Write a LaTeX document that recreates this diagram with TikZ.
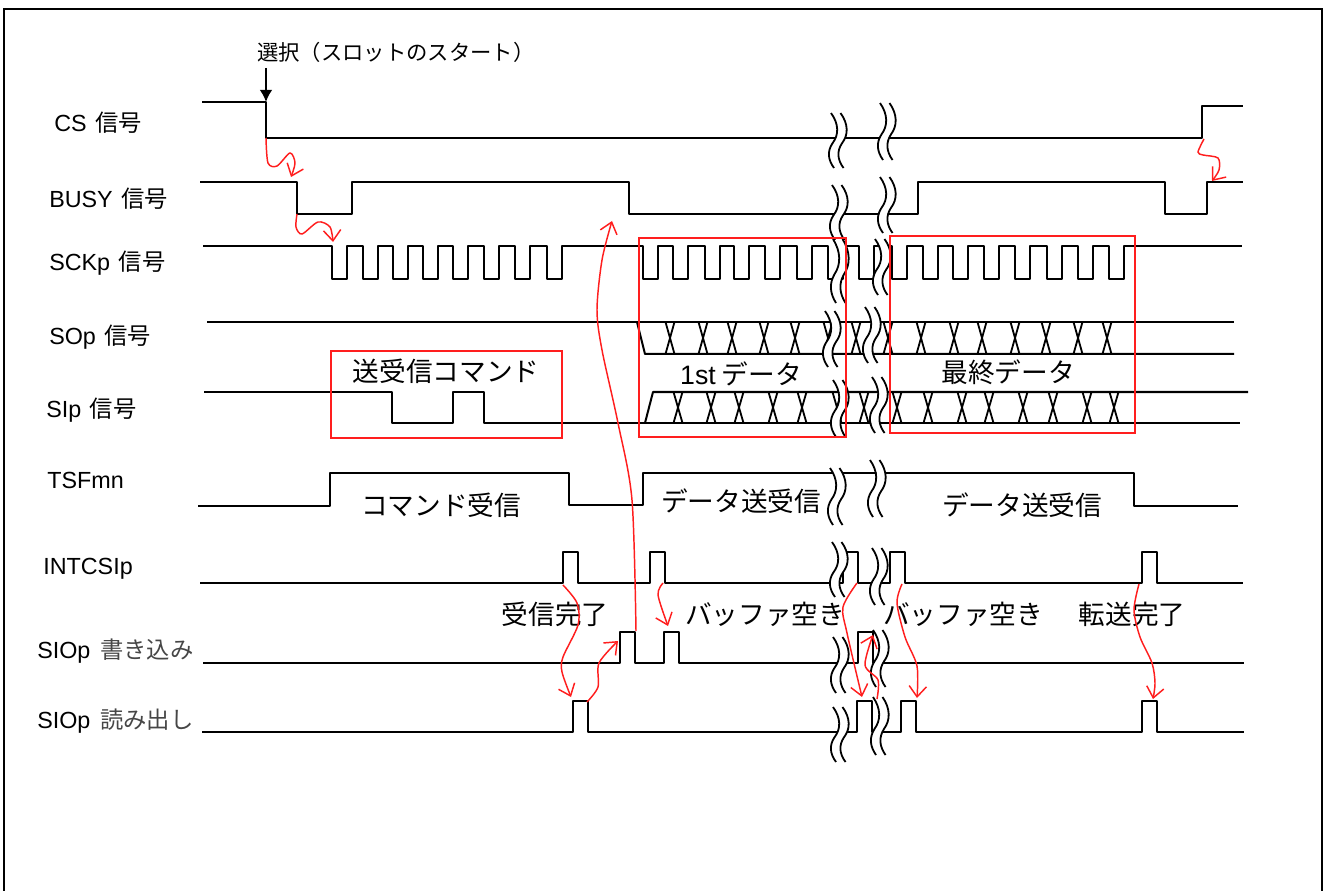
\documentclass[tikz,border=0pt]{standalone}
\usepackage{fontspec}
\setmainfont{Liberation Sans}
\newfontfamily\jp{Noto Sans CJK JP}
\usetikzlibrary{arrows.meta}

% one wavy cut line: x, top y, bottom y
\newcommand{\wavecut}[3]{(#1,#2) .. controls (#1+8,{#2+0.2*(#3-#2)}) and (#1+8,{#2+0.4*(#3-#2)}) .. (#1+1.5,{#2+0.55*(#3-#2)}) .. controls (#1-4,{#2+0.7*(#3-#2)}) and (#1-3,{#2+0.85*(#3-#2)}) .. (#1+3,#3)}

\tikzset{
    sig/.style={line width=1.5pt, line join=round},
    cross/.style={line width=1.35pt},
    cut/.style={line width=1.35pt},
    redbox/.style={draw=sigred, line width=1pt},
    redarrow/.style={draw=sigred, line width=1.1pt, -{Straight Barb[length=8pt,width=13pt,line width=1.1pt]}},
    siglabel/.style={anchor=west, inner sep=0pt, font=\fontsize{17.5}{20}\selectfont},
    biglabel/.style={inner sep=0pt, font=\fontsize{20}{22}\selectfont\jp}
}

\begin{document}
\begin{tikzpicture}[x=0.75pt,y=-0.75pt]
    % Define colors
    \definecolor{sigred}{RGB}{255,30,30}
    \definecolor{softblack}{RGB}{70,70,70}

    \useasboundingbox (0,0) rectangle (1325,891);

    % Frame
    \draw[line width=1.5pt] (4,891) -- (4,9) -- (1322,9) -- (1322,891);

    % Signal names
    \node[siglabel] (labelcs) at (54,123) {CS\kern1.5pt\ {\jp 信号}};
    \node[siglabel] (labelbusy) at (49,198.5) {BUSY\kern1.5pt\ {\jp 信号}};
    \node[siglabel] (labelsck) at (49,263) {SCKp\kern1.5pt\ {\jp 信号}};
    \node[siglabel] (labelso) at (49,337) {SOp\kern1.5pt\ {\jp 信号}};
    \node[siglabel] (labelsi) at (46,410) {SIp\kern1.5pt\ {\jp 信号}};
    \node[siglabel] (labeltsf) at (47,480) {TSFmn};
    \node[siglabel] (labelint) at (43,569) {INTCSIp};
    \node[siglabel] (labelwrite) at (37,651) {SIOp\kern2.5pt\ {\jp\color{softblack}書き込み}};
    \node[siglabel] (labelread) at (37,721) {SIOp\kern2.5pt\ {\jp\color{softblack}読み出し}};

    % CS and BUSY
    \draw[sig] (202,102) -- (266,102) -- (266,138) -- (1202,138) -- (1202,106) -- (1243,106);
    \draw[sig] (200,182) -- (297,182) -- (297,214) -- (352,214) -- (352,182) -- (629,182) -- (629,214)
        -- (918,214) -- (918,182) -- (1165,182) -- (1165,214) -- (1207,214) -- (1207,182) -- (1243,182);

    % SCKp clock
    \draw[sig] (203,246) foreach \x in {332,363,393,423,453,484,515,547,643,673,705,734,765,797,828,859,892,923,953,984,1015,1047,1078,1109} {
        -- (\x,246) -- (\x,279) -- (\x+15,279) -- (\x+15,246)
    } -- (1242,246);

    % SOp
    \draw[sig] (207,322) -- (1234,322);
    \draw[sig] (637,322) -- (645,354) -- (1234,354);
    \foreach \x in {670,703,732,764,795,828,856,888,921,954,982,1015,1046,1078,1107} {
        \draw[cross] (\x-4.5,322) -- (\x+4.5,354);
        \draw[cross] (\x+4.5,322) -- (\x-4.5,354);
    }

    % SIp
    \draw[sig] (204,392) -- (392,392) -- (392,423) -- (453,423) -- (453,392) -- (484,392) -- (484,423) -- (1240,423);
    \draw[sig] (645,423) -- (653,392) -- (1248,392);
    \foreach \x in {678,711,739,773,802,837,864,897,928,962,989,1023,1053,1087,1114} {
        \draw[cross] (\x-4.5,392) -- (\x+4.5,423);
        \draw[cross] (\x+4.5,392) -- (\x-4.5,423);
    }

    % TSFmn
    \draw[sig] (198,506) -- (330,506) -- (330,473) -- (569,473) -- (569,505) -- (643,505) -- (643,473)
        -- (1134,473) -- (1134,506) -- (1238,506);

    % INTCSIp
    \draw[sig] (200,583) foreach \x in {563,650,843,890,1142} {
        -- (\x,583) -- (\x,552) -- (\x+15,552) -- (\x+15,583)
    } -- (1243,583);

    % SIOp write
    \draw[sig] (203,663) foreach \x in {620,664,858} {
        -- (\x,663) -- (\x,632) -- (\x+15,632) -- (\x+15,663)
    } -- (1244,663);

    % SIOp read
    \draw[sig] (202,732) foreach \x in {573,857,901,1142} {
        -- (\x,732) -- (\x,701) -- (\x+15,701) -- (\x+15,732)
    } -- (1244,732);

    % Time axis cuts
    \foreach \x/\ya/\yb in {831/113/168,880/103/160,832/185/240,880/177/233,833/239/303,875/239/295,
        825/311/367,865/307/363,833/380/437,872/377/433,830/468/525,870/460/517,
        832/542/597,872/548/605,833/637/693,873/630/687,833/707/762,873/697/755} {
        \draw[white, line width=6pt] \wavecut{\x+5}{\ya}{\yb};
        \draw[cut] \wavecut{\x}{\ya}{\yb};
        \draw[cut] \wavecut{\x+9.5}{\ya}{\yb};
    }

    % Select arrow
    \coordinate (selecttop) at (266,68);
    \coordinate (csfall) at (266,102);
    \node[inner sep=0pt, anchor=west, font=\fontsize{16}{18}\selectfont\jp] (labelselect) at (257,52) {選択（スロットのスタート）};
    \draw[line width=1.5pt, -{Latex[length=9pt,width=9.5pt]}] (selecttop) -- (csfall);

    % Red boxes
    \draw[redbox] (331,351) rectangle (562,438);
    \draw[redbox] (639,238) rectangle (846,437);
    \draw[redbox] (890,236) rectangle (1135,433);

    % Texts
    \node[biglabel] (textcmd) at (446,371) {送受信コマンド};
    \node[biglabel] (textfirst) at (741,374) {{\rmfamily 1st} データ};
    \node[biglabel] (textlast) at (1008,372) {最終データ};
    \node[biglabel] (textcmdrx) at (441,505) {コマンド受信};
    \node[biglabel] (textdata) at (741,501) {データ送受信};
    \node[biglabel] (textdatb) at (1022,505) {データ送受信};
    \node[biglabel] (textrx) at (555,614) {受信完了};
    \node[biglabel] (textbufa) at (765,614) {バッファ空き};
    \node[biglabel] (textbufb) at (963,614) {バッファ空き};
    \node[biglabel] (textdone) at (1132,614) {転送完了};

    % Red causality arrows
    \draw[redarrow] plot[smooth] coordinates {(266,138) (268,163) (277,166) (290,153) (295,163) (291,177)};
    \draw[redarrow] plot[smooth] coordinates {(297,214) (296,227) (302,234) (318,222) (330,227) (333,242)};
    \draw[redarrow] plot[smooth] coordinates {(1204,139) (1198,152) (1203,155) (1218,158) (1219,170) (1212,181)};
    \draw[redarrow] plot[smooth] coordinates {(636,631) (632,500) (618,423) (602,350) (597,310) (602,260) (612,221)};
    \draw[redarrow] plot[smooth] coordinates {(563,585) (577,603) (578,625) (563,657) (562,672) (571,697)};
    \draw[redarrow] plot[smooth] coordinates {(587,702) (598,687) (599,663) (618,641)};
    \draw[redarrow] plot[smooth] coordinates {(663,583) (658,595) (668,626)};
    \draw[redarrow] plot[smooth] coordinates {(857,583) (843,607) (847,633) (862,697)};
    \draw[redarrow] plot[smooth] coordinates {(877,699) (878,680) (865,665) (873,635)};
    \draw[redarrow] plot[smooth] coordinates {(902,584) (897,603) (905,637) (917,666) (917,698)};
    \draw[redarrow] plot[smooth] coordinates {(1139,584) (1134,610) (1140,637) (1152,663) (1155,683) (1153,699)};

\end{tikzpicture}
\end{document}
